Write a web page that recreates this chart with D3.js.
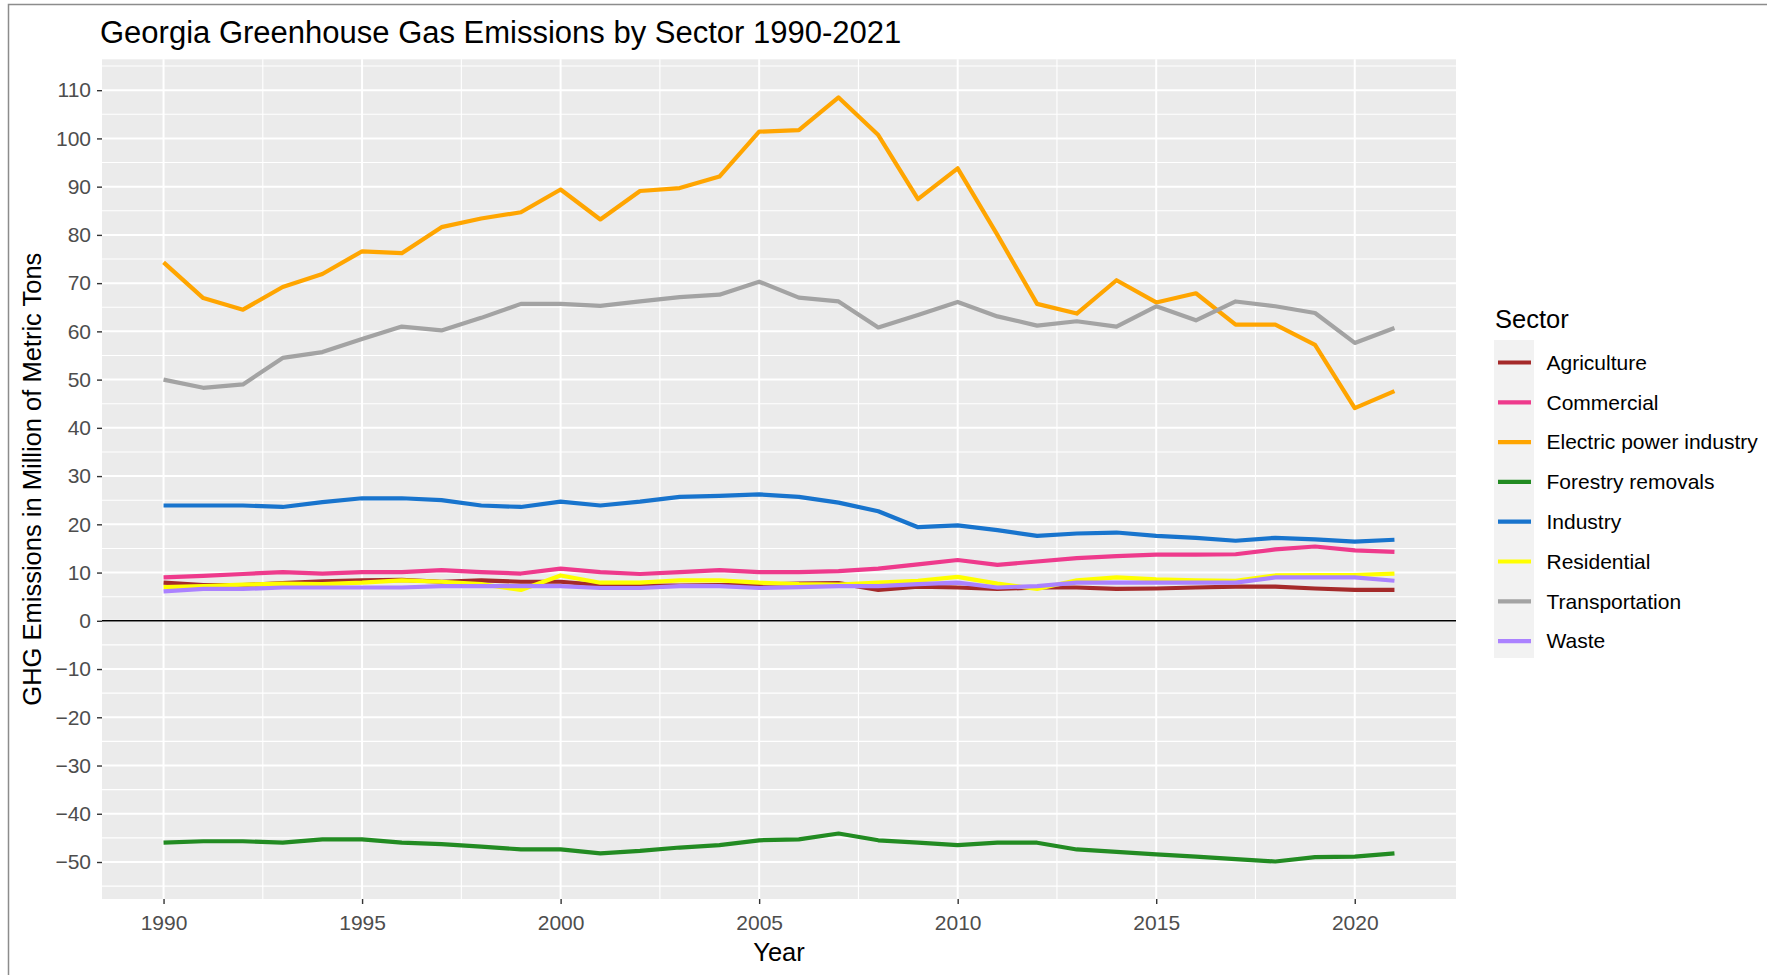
<!DOCTYPE html>
<html lang="en">
    <head>
        <meta charset="UTF-8">
        <title>Georgia Greenhouse Gas Emissions</title>
        <style>
            body {
                margin: 0;
                background: #fff;
            }
            svg {
                display: block;
                font-family: "Liberation Sans", Arial, sans-serif;
            }
            .grid line {
                stroke: #fff;
            }
            .tick-label {
                fill: #4d4d4d;
                font-size: 21px;
            }
            .line {
                fill: none;
                stroke-width: 4.2px;
                stroke-linejoin: round;
            }
        </style>
    </head>

    <body>
        <script src="https://d3js.org/d3.v7.min.js"></script>
        <script>

            var years = [1990, 1991, 1992, 1993, 1994, 1995, 1996, 1997, 1998, 1999,
                2000, 2001, 2002, 2003, 2004, 2005, 2006, 2007, 2008, 2009,
                2010, 2011, 2012, 2013, 2014, 2015, 2016, 2017, 2018, 2019,
                2020, 2021];

            var agriculture = [7.9, 7.4, 7.4, 7.8, 8.2, 8.4, 8.5, 8.1, 8.4, 8.1,
                8.1, 7.4, 7.3, 7.3, 7.4, 7.5, 7.7, 7.8, 6.4, 7.1,
                6.9, 6.6, 6.9, 6.9, 6.6, 6.7, 6.9, 7.1, 7.1, 6.7,
                6.4, 6.4];
            var commercial = [9.0, 9.3, 9.7, 10.1, 9.8, 10.1, 10.1, 10.5, 10.1, 9.8,
                10.8, 10.1, 9.7, 10.1, 10.5, 10.1, 10.1, 10.3, 10.8, 11.7,
                12.6, 11.6, 12.3, 13.0, 13.4, 13.7, 13.7, 13.8, 14.8, 15.4,
                14.6, 14.3];
            var electric = [74.3, 66.9, 64.5, 69.2, 71.9, 76.6, 76.2, 81.6, 83.4, 84.7,
                89.4, 83.2, 89.1, 89.7, 92.1, 101.4, 101.7, 108.5, 100.7, 87.4,
                93.8, 80.0, 65.7, 63.7, 70.6, 66.0, 67.9, 61.4, 61.4, 57.2,
                44.1, 47.6];
            var forestry = [-46.0, -45.7, -45.7, -46.0, -45.3, -45.3, -46.0, -46.3, -46.8, -47.4,
                -47.4, -48.2, -47.7, -47.0, -46.5, -45.5, -45.3, -44.1, -45.5, -46.0,
                -46.5, -46.0, -46.0, -47.4, -47.9, -48.4, -48.9, -49.4, -49.9, -49.0,
                -48.9, -48.2];
            var industry = [23.9, 23.9, 23.9, 23.6, 24.6, 25.4, 25.4, 25.0, 23.9, 23.6,
                24.7, 23.9, 24.7, 25.7, 25.9, 26.2, 25.7, 24.5, 22.7, 19.4,
                19.8, 18.8, 17.6, 18.1, 18.3, 17.6, 17.2, 16.6, 17.2, 16.9,
                16.4, 16.8];
            var residential = [7.0, 7.2, 7.5, 7.7, 7.6, 7.9, 8.4, 8.1, 7.6, 6.4,
                9.4, 7.9, 7.9, 8.4, 8.4, 7.9, 7.6, 7.5, 7.9, 8.3,
                9.1, 7.7, 6.6, 8.4, 9.0, 8.6, 8.4, 8.3, 9.4, 9.5,
                9.5, 9.8];
            var transportation = [50.0, 48.3, 49.0, 54.5, 55.7, 58.4, 61.0, 60.2, 62.8, 65.7,
                65.7, 65.3, 66.2, 67.1, 67.6, 70.3, 67.0, 66.2, 60.8, 63.4,
                66.1, 63.1, 61.2, 62.1, 61.0, 65.2, 62.3, 66.2, 65.2, 63.8,
                57.6, 60.7];
            var waste = [6.1, 6.6, 6.6, 6.9, 6.9, 6.9, 6.9, 7.2, 7.2, 7.2,
                7.2, 6.8, 6.8, 7.2, 7.2, 6.8, 7.0, 7.2, 7.2, 7.6,
                7.9, 6.9, 7.2, 7.9, 7.9, 7.9, 7.9, 7.9, 9.0, 9.0,
                9.0, 8.3];

            var sectors = ["Agriculture", "Commercial", "Electric power industry", "Forestry removals",
                "Industry", "Residential", "Transportation", "Waste"];
            var sectorValues = [agriculture, commercial, electric, forestry,
                industry, residential, transportation, waste];
            var colors = ["#a52a2a", "#ee3a8c", "#ffa500", "#228b22",
                "#1874cd", "#ffff00", "#a3a3a3", "#ab82ff"];

            var xTicks = [1990, 1995, 2000, 2005, 2010, 2015, 2020];
            var xMinor = [1992.5, 1997.5, 2002.5, 2007.5, 2012.5, 2017.5];
            var yTicks = [-50, -40, -30, -20, -10, 0, 10, 20, 30, 40, 50, 60, 70, 80, 90, 100, 110];
            var yMinor = [-55, -45, -35, -25, -15, -5, 5, 15, 25, 35, 45, 55, 65, 75, 85, 95, 105, 115];

            var width = 1767,
                height = 975,
                panel = {left: 102, right: 1456, top: 59.3, bottom: 899};

            var x = d3.scaleLinear()
                .domain([1988.45, 2022.55])
                .range([panel.left, panel.right]);

            var y = d3.scaleLinear()
                .domain([-57.67, 116.4])
                .range([panel.bottom, panel.top]);

            var svg = d3.select("body").append("svg")
                .attr("width", width)
                .attr("height", height);

            // outer frame of the screenshot
            svg.append("rect")
                .attr("x", 8.5)
                .attr("y", 4.5)
                .attr("width", width)
                .attr("height", height)
                .attr("fill", "none")
                .attr("stroke", "#8c8c8c")
                .attr("stroke-width", 1.5);

            svg.append("rect")
                .attr("x", panel.left)
                .attr("y", panel.top)
                .attr("width", panel.right - panel.left)
                .attr("height", panel.bottom - panel.top)
                .attr("fill", "#ebebeb");

            var grid = svg.append("g").attr("class", "grid");

            grid.selectAll(".ymin").data(yMinor).enter().append("line")
                .attr("x1", panel.left).attr("x2", panel.right)
                .attr("y1", d => y(d)).attr("y2", d => y(d))
                .attr("stroke-width", 1.1);
            grid.selectAll(".xmin").data(xMinor).enter().append("line")
                .attr("y1", panel.top).attr("y2", panel.bottom)
                .attr("x1", d => x(d)).attr("x2", d => x(d))
                .attr("stroke-width", 1.1);
            grid.selectAll(".ymaj").data(yTicks).enter().append("line")
                .attr("x1", panel.left).attr("x2", panel.right)
                .attr("y1", d => y(d)).attr("y2", d => y(d))
                .attr("stroke-width", 2);
            grid.selectAll(".xmaj").data(xTicks).enter().append("line")
                .attr("y1", panel.top).attr("y2", panel.bottom)
                .attr("x1", d => x(d)).attr("x2", d => x(d))
                .attr("stroke-width", 2);

            // zero reference line
            svg.append("line")
                .attr("x1", panel.left).attr("x2", panel.right)
                .attr("y1", y(0)).attr("y2", y(0))
                .attr("stroke", "#000")
                .attr("stroke-width", 1.4);

            // axes
            var xAxis = svg.append("g")
                .attr("transform", "translate(0," + panel.bottom + ")")
                .call(d3.axisBottom(x).tickValues(xTicks).tickFormat(d3.format("d")).tickSize(5).tickPadding(11));
            var yAxis = svg.append("g")
                .attr("transform", "translate(" + panel.left + ",0)")
                .call(d3.axisLeft(y).tickValues(yTicks).tickSize(5).tickPadding(6));

            [xAxis, yAxis].forEach(function(a) {
                a.select(".domain").remove();
                a.selectAll(".tick line").attr("stroke", "#333").attr("stroke-width", 1.4);
                a.selectAll(".tick text")
                    .attr("class", "tick-label")
                    .style("font-family", "Liberation Sans, Arial, sans-serif");
            });

            var line = d3.line()
                .x(function(d, i) { return x(years[i]); })
                .y(function(d) { return y(d); });

            svg.selectAll(".line")
                .data(sectorValues)
                .enter().append("path")
                .attr("class", "line")
                .attr("stroke", (d, i) => colors[i])
                .attr("d", line);

            // titles
            svg.append("text")
                .attr("x", 100)
                .attr("y", 43)
                .attr("font-size", 31)
                .attr("fill", "#000")
                .text("Georgia Greenhouse Gas Emissions by Sector 1990-2021");

            svg.append("text")
                .attr("x", (panel.left + panel.right) / 2)
                .attr("y", 961)
                .attr("text-anchor", "middle")
                .attr("font-size", 25.5)
                .text("Year");

            svg.append("text")
                .attr("transform", "translate(41," + (panel.top + panel.bottom) / 2 + ") rotate(-90)")
                .attr("text-anchor", "middle")
                .attr("font-size", 25.5)
                .text("GHG Emissions in Million of Metric Tons");

            // legend
            var legend = svg.append("g").attr("transform", "translate(1494,0)");

            legend.append("text")
                .attr("x", 1)
                .attr("y", 328)
                .attr("font-size", 25.5)
                .text("Sector");

            legend.append("rect")
                .attr("x", 0)
                .attr("y", 340)
                .attr("width", 40)
                .attr("height", 318)
                .attr("fill", "#f2f2f2");

            var keys = legend.selectAll(".key")
                .data(sectors)
                .enter().append("g")
                .attr("transform", (d, i) => "translate(0," + (362.5 + i * 39.8) + ")");

            keys.append("line")
                .attr("x1", 4).attr("x2", 37)
                .attr("stroke", (d, i) => colors[i])
                .attr("stroke-width", 4.2);

            keys.append("text")
                .attr("x", 52.5)
                .attr("dy", "0.35em")
                .attr("font-size", 21)
                .attr("fill", "#000")
                .text(d => d);

        </script>
    </body>

</html>
